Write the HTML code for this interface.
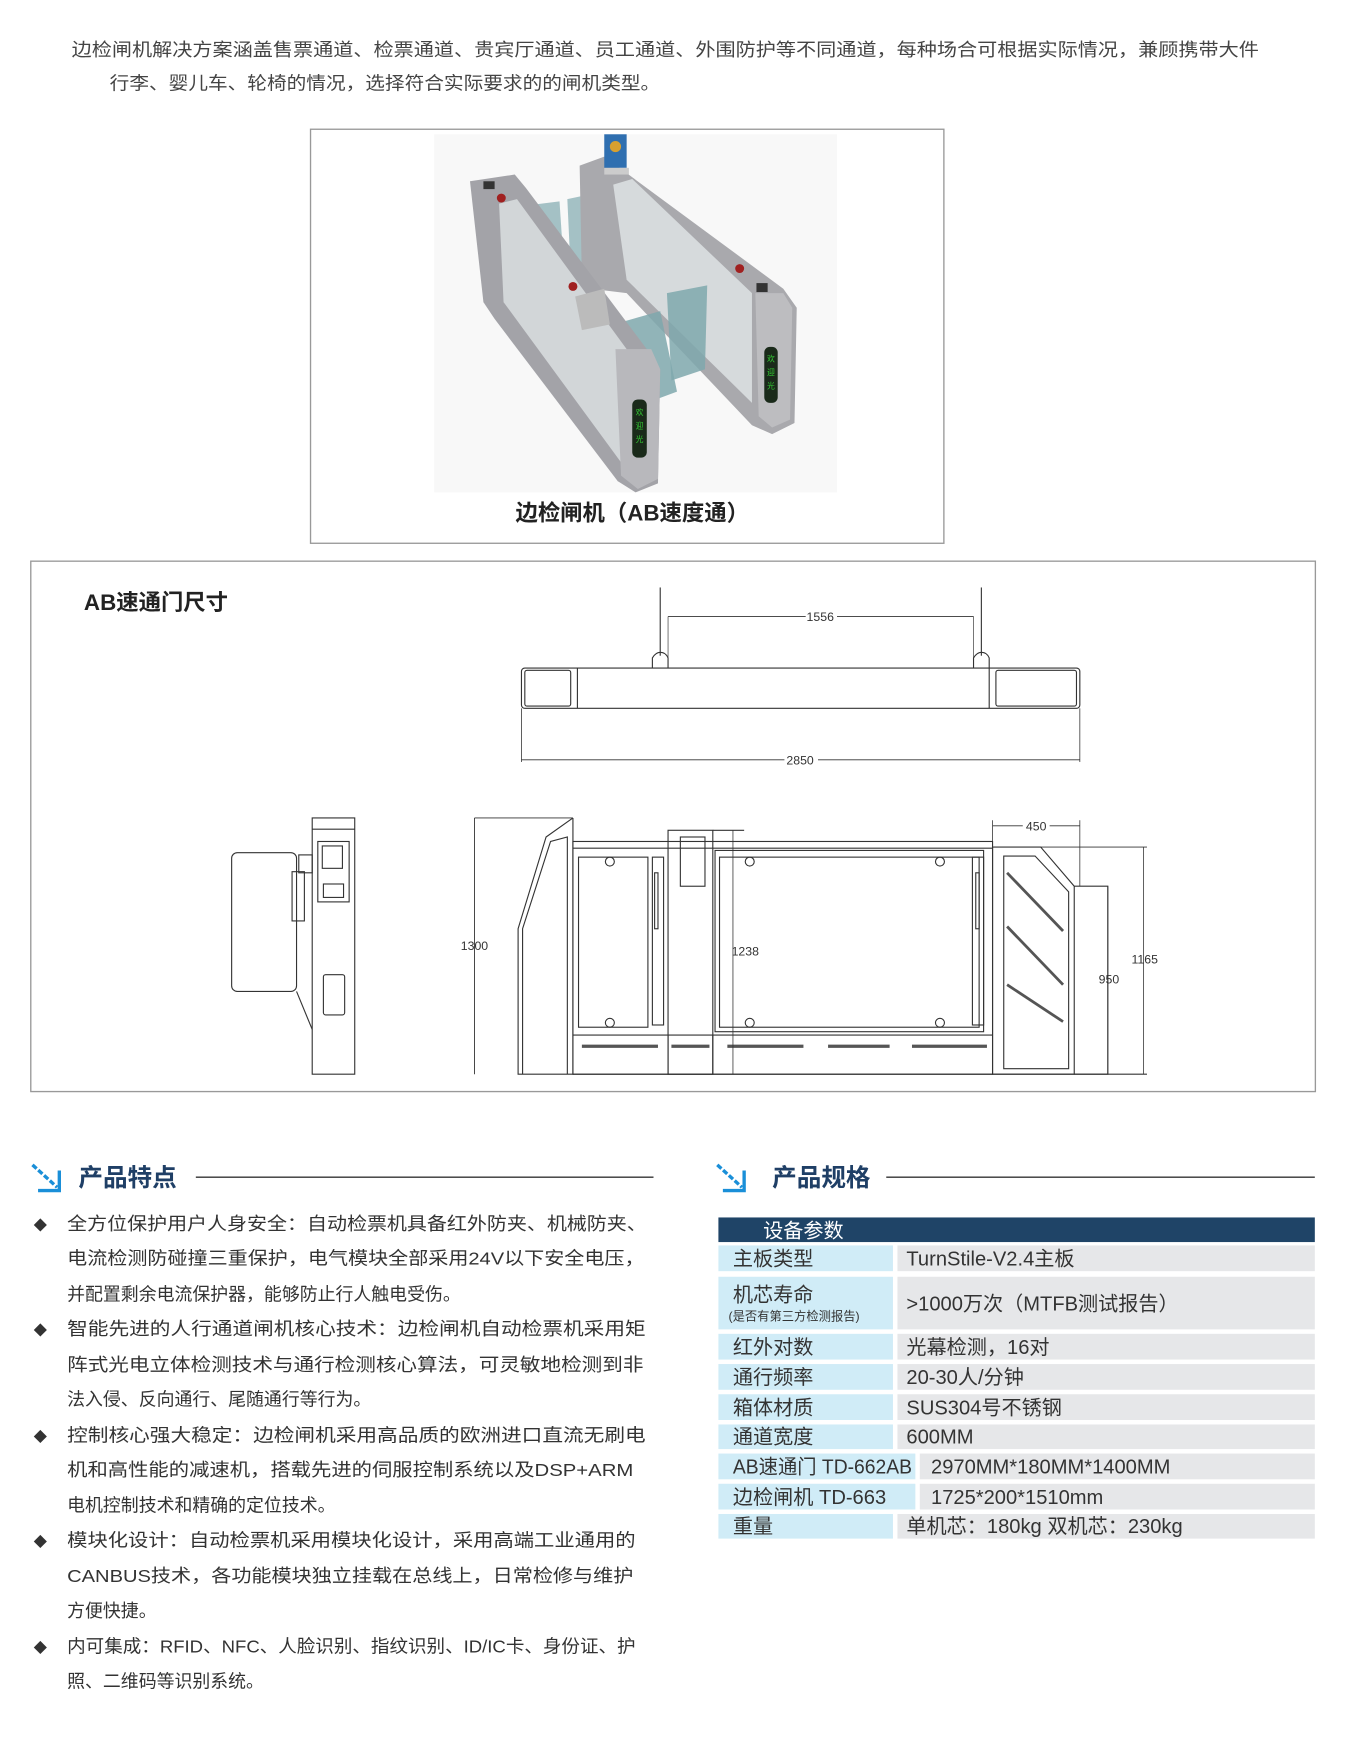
<!DOCTYPE html>
<html><head><meta charset="utf-8"><style>
html,body{margin:0;padding:0;background:#fff;}
svg{display:block;}
text{font-family:"Liberation Sans","Noto Sans CJK SC",sans-serif;}
</style></head><body>
<svg width="1354" height="1753" viewBox="0 0 1210 1566.6" xmlns="http://www.w3.org/2000/svg">
<rect width="1210" height="1567" fill="#fff"/>
<!-- intro -->
<text x="64" y="50" font-size="16" fill="#444" textLength="1061" lengthAdjust="spacingAndGlyphs">边检闸机解决方案涵盖售票通道、检票通道、贵宾厅通道、员工通道、外围防护等不同通道，每种场合可根据实际情况，兼顾携带大件</text>
<text x="98" y="80" font-size="16" fill="#444" textLength="492" lengthAdjust="spacingAndGlyphs">行李、婴儿车、轮椅的情况，选择符合实际要求的的闸机类型。</text>

<!-- photo box -->
<rect x="277.5" y="115.5" width="566" height="370" fill="#fff" stroke="#999" stroke-width="1.2"/>
<rect x="388" y="120" width="360" height="320" fill="#f8f8f8"/>
<g>
 <!-- flaps -->
 <polygon points="468,184 500,180 505,255 475,262" fill="#8fb3b8" opacity=".8"/>
 <polygon points="507,178 535,172 532,250 510,243" fill="#8fb3b8" opacity=".8"/>
 <!-- right unit -->
 <polygon points="518,148 540,140 700,258 712,275 710,378 690,388 672,380 560,262 528,258 520,250" fill="#a9a9ad"/>
 <polygon points="548,165 565,160 672,262 672,360 560,250" fill="#d6dadc"/>
 <polygon points="675,262 700,262 708,275 706,375 690,382 678,372" fill="#bdbdc0"/>
 <rect x="540" y="120" width="20" height="30" fill="#2f6fb0"/>
 <circle cx="550" cy="131" r="5" fill="#d8a030"/>
 <rect x="540" y="150" width="22" height="6" fill="#ccc"/>
 <circle cx="661" cy="240" r="4" fill="#a02020"/>
 <rect x="676" y="253" width="10" height="8" fill="#333"/>
 <rect x="683" y="310" width="12" height="50" rx="5" fill="#1a2a1a"/>
 <text x="689" y="323" font-size="7" fill="#3c3" text-anchor="middle">欢</text>
 <text x="689" y="335" font-size="7" fill="#3c3" text-anchor="middle">迎</text>
 <text x="689" y="347" font-size="7" fill="#3c3" text-anchor="middle">光</text>
 <!-- more flaps -->
 <polygon points="555,288 590,278 605,350 578,360" fill="#7fa8ad" opacity=".85"/>
 <polygon points="596,262 632,255 630,330 600,340" fill="#7fa8ad" opacity=".85"/>
 <!-- left unit -->
 <polygon points="420,162 460,156 470,168 578,312 590,330 588,432 568,440 552,430 442,285 432,270" fill="#a3a3a8"/>
 <polygon points="446,182 462,178 560,312 560,420 450,270" fill="#d2d6d8"/>
 <polygon points="550,312 582,312 590,330 588,428 570,437 555,425" fill="#b8b8bc"/>
 <polygon points="514,265 540,258 545,290 520,295" fill="#bbb"/>
 <circle cx="448" cy="177" r="4" fill="#a02020"/>
 <circle cx="512" cy="256" r="4" fill="#a02020"/>
 <rect x="432" y="162" width="10" height="7" fill="#333"/>
 <rect x="565" y="357" width="13" height="52" rx="5" fill="#1a2a1a"/>
 <text x="571.5" y="371" font-size="7" fill="#3c3" text-anchor="middle">欢</text>
 <text x="571.5" y="383" font-size="7" fill="#3c3" text-anchor="middle">迎</text>
 <text x="571.5" y="395" font-size="7" fill="#3c3" text-anchor="middle">光</text>
</g>
<text x="565" y="465" font-size="20" font-weight="bold" fill="#222" text-anchor="middle">边检闸机（AB速度通）</text>

<!-- drawing box -->
<rect x="27.5" y="501.5" width="1148" height="474" fill="#fff" stroke="#999" stroke-width="1.2"/>
<text x="75" y="545" font-size="20" font-weight="bold" fill="#222">AB速通门尺寸</text>
<g stroke="#333" stroke-width="1" fill="none">
 <!-- top view -->
 <line x1="590" y1="525" x2="590" y2="586"/><line x1="877" y1="525" x2="877" y2="586"/>
 <path d="M583,597 V588 Q586,583 590,583 Q595,583 597,588 V597"/>
 <path d="M870,597 V588 Q873,583 877,583 Q882,583 884,588 V597"/>
 <line x1="597" y1="551" x2="870" y2="551" stroke-width=".8"/>
 <line x1="597" y1="551" x2="597" y2="597" stroke-width=".6"/><line x1="870" y1="551" x2="870" y2="597" stroke-width=".6"/>
 <rect x="466" y="597" width="499" height="36" rx="3"/>
 <rect x="469" y="599" width="41" height="32" rx="2"/><line x1="516" y1="597" x2="516" y2="633"/>
 <rect x="890" y="599" width="72" height="32" rx="2"/><line x1="884" y1="597" x2="884" y2="633"/>
 <line x1="466" y1="633" x2="466" y2="681" stroke-width=".7"/><line x1="965" y1="633" x2="965" y2="681" stroke-width=".7"/>
 <line x1="466" y1="679" x2="965" y2="679" stroke-width=".8"/>
 <!-- side view -->
 <rect x="207" y="762" width="58" height="124" rx="5"/>
 <rect x="261" y="779" width="11" height="44"/>
 <rect x="267" y="764" width="12" height="16"/>
 <path d="M279,731 H317 V960 H279 Z"/>
 <line x1="279" y1="741" x2="317" y2="741"/>
 <rect x="284" y="752" width="28" height="54"/>
 <rect x="288" y="756" width="18" height="20"/>
 <rect x="289" y="790" width="18" height="12"/>
 <rect x="289" y="871" width="19" height="36" rx="2"/>
 <path d="M265,886 L279,920"/>
 <!-- front view -->
 <line x1="424" y1="731" x2="424" y2="960" stroke-width=".8"/>
 <line x1="424" y1="731" x2="512" y2="731" stroke-width=".8"/>
 <path d="M512,731 V960 H463 V830 L488,748 L512,731"/>
 <path d="M467,960 V830 L492,752 L507,748 V960"/>
 <rect x="512" y="752" width="375" height="208"/>
 <line x1="512" y1="758" x2="887" y2="758"/>
 <rect x="517" y="766" width="62" height="152"/>
 <rect x="643" y="766" width="232" height="152"/>
 <rect x="639" y="760" width="240" height="162"/>
 <rect x="597" y="742" width="40" height="218"/>
 <rect x="608" y="748" width="22" height="44"/>
 <line x1="637" y1="742" x2="665" y2="742"/>
 <rect x="583" y="766" width="10" height="150"/><rect x="585" y="780" width="3" height="50"/>
 <rect x="869" y="766" width="10" height="150"/><rect x="872" y="780" width="3" height="50"/>
 <line x1="512" y1="925" x2="887" y2="925"/>
 <line x1="597" y1="925" x2="597" y2="960"/><line x1="637" y1="925" x2="637" y2="960"/>
 <g stroke-width="3" stroke="#555">
  <line x1="520" y1="935" x2="588" y2="935"/><line x1="600" y1="935" x2="634" y2="935"/>
  <line x1="650" y1="935" x2="718" y2="935"/><line x1="740" y1="935" x2="795" y2="935"/><line x1="815" y1="935" x2="882" y2="935"/>
 </g>
 <path d="M887,757 V960 H960 V792 L930,757 Z"/>
 <path d="M897,765 L925,765 L955,797 V955 H897 Z"/>
 <g stroke-width="2.5" stroke="#555"><line x1="900" y1="780" x2="950" y2="832"/><line x1="900" y1="828" x2="950" y2="880"/><line x1="900" y1="880" x2="950" y2="913"/></g>
 <path d="M960,792 H990 V960 H960"/>
 <line x1="887" y1="733" x2="887" y2="757" stroke-width=".7"/><line x1="965" y1="733" x2="965" y2="792" stroke-width=".7"/>
 <line x1="887" y1="738" x2="965" y2="738" stroke-width=".8"/>
 <line x1="930" y1="757" x2="1025" y2="757" stroke-width=".7"/>
 <line x1="1022" y1="757" x2="1022" y2="960" stroke-width=".7"/>
 <line x1="990" y1="792" x2="990" y2="960" stroke-width=".7"/>
 <line x1="655" y1="742" x2="655" y2="960" stroke-width=".7"/>
 <line x1="512" y1="960" x2="1025" y2="960"/>
 <circle cx="545" cy="770" r="4"/><circle cx="545" cy="914" r="4"/>
 <circle cx="670" cy="770" r="4"/><circle cx="670" cy="914" r="4"/>
 <circle cx="840" cy="770" r="4"/><circle cx="840" cy="914" r="4"/>
</g>
<g font-size="11" fill="#333" text-anchor="middle" font-family="Liberation Sans Narrow, Liberation Sans, sans-serif">
 <rect x="720" y="545" width="28" height="11" fill="#fff"/><text x="733" y="555">1556</text>
 <rect x="701" y="673" width="30" height="11" fill="#fff"/><text x="715" y="683">2850</text>
 <rect x="914" y="732" width="24" height="11" fill="#fff"/><text x="926" y="742">450</text>
 <text x="424" y="849">1300</text>
 <text x="666" y="854">1238</text>
 <text x="991" y="879">950</text>
 <text x="1023" y="861">1165</text>
</g>

<!-- section headers -->
<g>
 <path d="M29,1041 L51,1061" stroke="#1a8fd8" stroke-width="3" stroke-dasharray="5,2"/>
 <path d="M53,1046 V1064 H34" stroke="#1a8fd8" stroke-width="3" fill="none"/>
 <text x="70" y="1060" font-size="22" font-weight="bold" fill="#1f3f66">产品特点</text>
 <line x1="175" y1="1052" x2="584" y2="1052" stroke="#333" stroke-width="1.3"/>
 <path d="M641,1041 L663,1061" stroke="#1a8fd8" stroke-width="3" stroke-dasharray="5,2"/>
 <path d="M665,1046 V1064 H646" stroke="#1a8fd8" stroke-width="3" fill="none"/>
 <text x="690" y="1060" font-size="22" font-weight="bold" fill="#1f3f66">产品规格</text>
 <line x1="792" y1="1052" x2="1175" y2="1052" stroke="#333" stroke-width="1.3"/>
</g>

<!-- bullets -->
<g font-size="16" fill="#333">
 <text x="30" y="1099" font-size="12">◆</text>
 <text x="60" y="1099" textLength="518" lengthAdjust="spacingAndGlyphs">全方位保护用户人身安全：自动检票机具备红外防夹、机械防夹、</text>
 <text x="60" y="1130" textLength="516" lengthAdjust="spacingAndGlyphs">电流检测防碰撞三重保护，电气模块全部采用24V以下安全电压，</text>
 <text x="60" y="1162">并配置剩余电流保护器，能够防止行人触电受伤。</text>
 <text x="30" y="1193" font-size="12">◆</text>
 <text x="60" y="1193" textLength="517" lengthAdjust="spacingAndGlyphs">智能先进的人行通道闸机核心技术：边检闸机自动检票机采用矩</text>
 <text x="60" y="1225" textLength="515" lengthAdjust="spacingAndGlyphs">阵式光电立体检测技术与通行检测核心算法，可灵敏地检测到非</text>
 <text x="60" y="1256">法入侵、反向通行、尾随通行等行为。</text>
 <text x="30" y="1288" font-size="12">◆</text>
 <text x="60" y="1288" textLength="517" lengthAdjust="spacingAndGlyphs">控制核心强大稳定：边检闸机采用高品质的欧洲进口直流无刷电</text>
 <text x="60" y="1319" textLength="506" lengthAdjust="spacingAndGlyphs">机和高性能的减速机，搭载先进的伺服控制系统以及DSP+ARM</text>
 <text x="60" y="1351">电机控制技术和精确的定位技术。</text>
 <text x="30" y="1382" font-size="12">◆</text>
 <text x="60" y="1382" textLength="508" lengthAdjust="spacingAndGlyphs">模块化设计：自动检票机采用模块化设计，采用高端工业通用的</text>
 <text x="60" y="1414" textLength="506" lengthAdjust="spacingAndGlyphs">CANBUS技术，各功能模块独立挂载在总线上，日常检修与维护</text>
 <text x="60" y="1445">方便快捷。</text>
 <text x="30" y="1477" font-size="12">◆</text>
 <text x="60" y="1477" textLength="508" lengthAdjust="spacingAndGlyphs">内可集成：RFID、NFC、人脸识别、指纹识别、ID/IC卡、身份证、护</text>
 <text x="60" y="1508">照、二维码等识别系统。</text>
</g>

<!-- table -->
<rect x="642" y="1088" width="533" height="22" fill="#1f4467"/>
<text x="682" y="1106" font-size="18" fill="#fff">设备参数</text>
<g fill="#d0ecf7">
 <rect x="642" y="1113" width="156" height="23"/>
 <rect x="642" y="1141" width="156" height="47"/>
 <rect x="642" y="1192" width="156" height="23"/>
 <rect x="642" y="1219" width="156" height="23"/>
 <rect x="642" y="1246" width="156" height="23"/>
 <rect x="642" y="1273" width="156" height="22"/>
 <rect x="642" y="1299" width="176" height="23"/>
 <rect x="642" y="1326" width="176" height="23"/>
 <rect x="642" y="1353" width="156" height="22"/>
</g>
<g fill="#e6e7e9">
 <rect x="802" y="1113" width="373" height="23"/>
 <rect x="802" y="1141" width="373" height="47"/>
 <rect x="802" y="1192" width="373" height="23"/>
 <rect x="802" y="1219" width="373" height="23"/>
 <rect x="802" y="1246" width="373" height="23"/>
 <rect x="802" y="1273" width="373" height="22"/>
 <rect x="822" y="1299" width="353" height="23"/>
 <rect x="822" y="1326" width="353" height="23"/>
 <rect x="802" y="1353" width="373" height="22"/>
</g>
<g font-size="18" fill="#333">
 <text x="655" y="1131">主板类型</text><text x="810" y="1131">TurnStile-V2.4主板</text>
 <text x="655" y="1163">机芯寿命</text>
 <text x="651" y="1180" font-size="11">(是否有第三方检测报告)</text>
 <text x="810" y="1171">&gt;1000万次（MTFB测试报告）</text>
 <text x="655" y="1210">红外对数</text><text x="810" y="1210">光幕检测，16对</text>
 <text x="655" y="1237">通行频率</text><text x="810" y="1237">20-30人/分钟</text>
 <text x="655" y="1264">箱体材质</text><text x="810" y="1264">SUS304号不锈钢</text>
 <text x="655" y="1290">通道宽度</text><text x="810" y="1290">600MM</text>
 <text x="655" y="1317" textLength="160" lengthAdjust="spacingAndGlyphs">AB速通门 TD-662AB</text><text x="832" y="1317">2970MM*180MM*1400MM</text>
 <text x="655" y="1344">边检闸机 TD-663</text><text x="832" y="1344">1725*200*1510mm</text>
 <text x="655" y="1370">重量</text><text x="810" y="1370">单机芯：180kg  双机芯：230kg</text>
</g>
</svg>
</body></html>
